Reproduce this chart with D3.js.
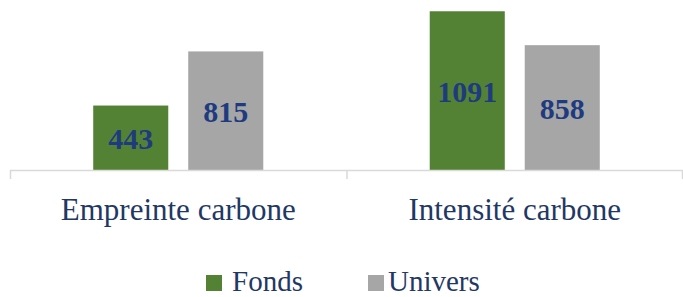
<!DOCTYPE html>
<meta charset="utf-8">
<style>
body { margin: 0; background: #fff; }
text { font-family: "Liberation Serif", "Times New Roman", "DejaVu Serif", serif; }
.cat { fill: #1F3864; font-size: 31px; }
.val { fill: #1F3B7F; font-size: 30px; font-weight: bold; }
.leg { fill: #1F3864; font-size: 29px; }
</style>
<svg width="683" height="297"></svg>
<script src="https://d3js.org/d3.v7.min.js"></script>
<script>
var categories = ["Empreinte carbone", "Intensité carbone"];
var series = ["Fonds", "Univers"];
var fonds = [443, 1091];
var univers = [815, 858];
var colors = ["#548235", "#A6A6A6"];

var svg = d3.select("svg"),
    baseline = 170;

var x0 = d3.scaleBand().domain(categories).range([10, 683]);
var x1 = d3.scaleBand().domain(series).range([0, x0.bandwidth()])
    .paddingInner(0.21).paddingOuter(0.876);
var y = d3.scaleLinear().domain([0, 1200]).range([baseline, baseline - 1200 * 0.1455]);

var values = [fonds, univers];
var data = [];
categories.forEach(function(c, i) {
  series.forEach(function(s, j) {
    data.push({cat: c, ser: s, v: values[j][i], color: colors[j]});
  });
});

/* bars */
svg.selectAll(".bar")
  .data(data)
  .enter().append("rect")
    .attr("class", "bar")
    .attr("x", function(d) { return x0(d.cat) + x1(d.ser); })
    .attr("y", function(d) { return y(d.v); })
    .attr("width", x1.bandwidth())
    .attr("height", function(d) { return baseline - y(d.v); })
    .style("fill", function(d) { return d.color; });

/* value labels */
svg.selectAll(".val")
  .data(data)
  .enter().append("text")
    .attr("class", "val")
    .attr("text-anchor", "middle")
    .attr("x", function(d) { return x0(d.cat) + x1(d.ser) + x1.bandwidth() / 2; })
    .attr("y", function(d) { return (y(d.v) + baseline) / 2 + 11; })
    .text(function(d) { return d.v; });

/* axis line with category separators */
var r = x0.range();
svg.append("line")
  .attr("x1", r[0]).attr("x2", r[1])
  .attr("y1", baseline + 0.5).attr("y2", baseline + 0.5)
  .style("stroke", "#D9D9D9").style("stroke-width", 1.5);
var seps = categories.map(function(c) { return x0(c); }).concat([r[1]]);
svg.selectAll(".sep")
  .data(seps)
  .enter().append("line")
    .attr("x1", function(d) { return d === r[1] ? d - 0.5 : d + 0.5; })
    .attr("x2", function(d) { return d === r[1] ? d - 0.5 : d + 0.5; })
    .attr("y1", baseline).attr("y2", baseline + 9)
    .style("stroke", "#D9D9D9").style("stroke-width", 1.5);

/* category labels */
svg.selectAll(".cat")
  .data(categories)
  .enter().append("text")
    .attr("class", "cat")
    .attr("text-anchor", "middle")
    .attr("x", function(d) { return x0(d) + x0.bandwidth() / 2; })
    .attr("y", 220)
    .text(function(d) { return d; });

/* legend */
var legX = [206, 368];
var leg = svg.selectAll(".legitem")
  .data(series)
  .enter().append("g")
    .attr("transform", function(d, i) { return "translate(" + legX[i] + ",275)"; });
leg.append("rect")
  .attr("width", 16).attr("height", 16)
  .style("fill", function(d, i) { return colors[i]; });
leg.append("text")
  .attr("class", "leg")
  .attr("x", function(d, i) { return i === 0 ? 26 : 20; })
  .attr("y", 16)
  .text(function(d) { return d; });
</script>
